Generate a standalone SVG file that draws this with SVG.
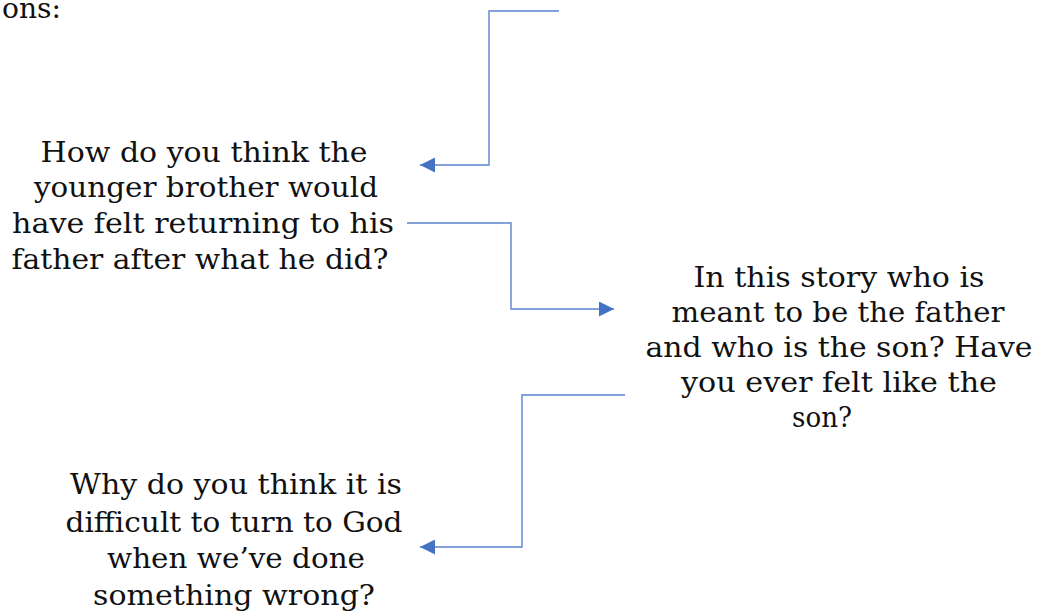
<svg xmlns="http://www.w3.org/2000/svg" width="1038" height="611" viewBox="0 0 1038 611">
<style>
text{font-family:"DejaVu Serif","Liberation Serif",serif;font-size:27px;fill:#111;}
.c{text-anchor:middle;}
.ln{fill:none;stroke:#5b84cf;stroke-width:1.4;}
</style>
<defs>
<marker id="ah" markerWidth="15" markerHeight="15" refX="15" refY="7.5" orient="auto" markerUnits="userSpaceOnUse" viewBox="0 0 15 15">
<path d="M0,0 L15,7.5 L0,15 Z" fill="#4472C4"/>
</marker>
</defs>
<rect width="1038" height="611" fill="#fff"/>
<text x="61" y="18" text-anchor="end" textLength="59" lengthAdjust="spacingAndGlyphs">ons:</text>
<g id="connectors">
<path class="ln" d="M559,11 H489 V165 H420" marker-end="url(#ah)"/>
<path class="ln" d="M407,223 H511 V309 H614" marker-end="url(#ah)"/>
<path class="ln" d="M625,395 H522 V547 H420" marker-end="url(#ah)"/>
</g>
<g id="node1">
<text class="c" x="204" y="162" textLength="327" lengthAdjust="spacingAndGlyphs">How do you think the</text>
<text class="c" x="206" y="197" textLength="344" lengthAdjust="spacingAndGlyphs">younger brother would</text>
<text class="c" x="203" y="233" textLength="382" lengthAdjust="spacingAndGlyphs">have felt returning to his</text>
<text class="c" x="200" y="269" textLength="377" lengthAdjust="spacingAndGlyphs">father after what he did?</text>
</g>
<g id="node2">
<text class="c" x="839" y="287" textLength="291" lengthAdjust="spacingAndGlyphs">In this story who is</text>
<text class="c" x="838" y="322" textLength="333" lengthAdjust="spacingAndGlyphs">meant to be the father</text>
<text class="c" x="839" y="357" textLength="387" lengthAdjust="spacingAndGlyphs">and who is the son? Have</text>
<text class="c" x="839" y="392" textLength="316" lengthAdjust="spacingAndGlyphs">you ever felt like the</text>
<text class="c" x="822" y="427" textLength="60" lengthAdjust="spacingAndGlyphs">son?</text>
</g>
<g id="node3">
<text class="c" x="236" y="494" textLength="332" lengthAdjust="spacingAndGlyphs">Why do you think it is</text>
<text class="c" x="234" y="532" textLength="337" lengthAdjust="spacingAndGlyphs">difficult to turn to God</text>
<text class="c" x="236" y="568" textLength="258" lengthAdjust="spacingAndGlyphs">when we’ve done</text>
<text class="c" x="234" y="605" textLength="282" lengthAdjust="spacingAndGlyphs">something wrong?</text>
</g>
</svg>
